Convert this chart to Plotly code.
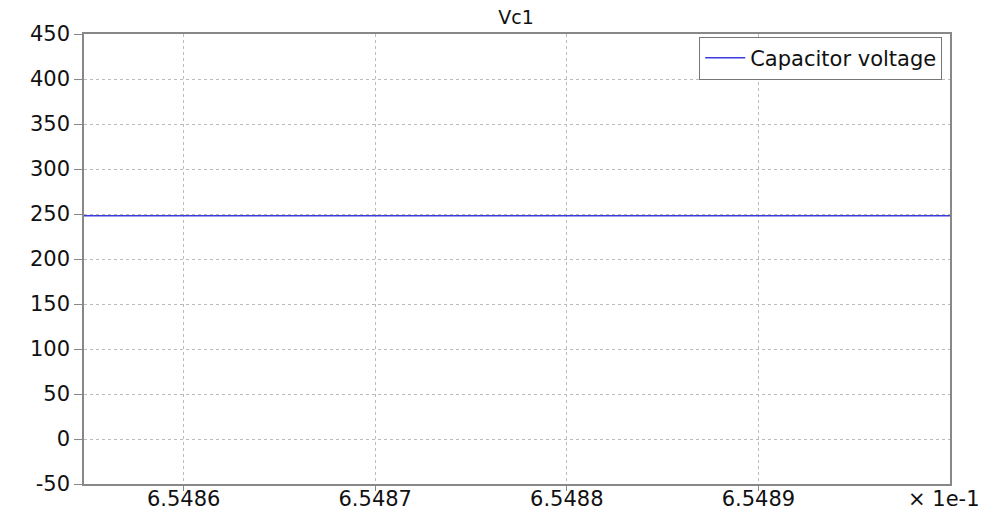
import plotly.graph_objects as go

# time (displayed in units of 1e-1 s)
time_vals = [6.54854, 6.54858, 6.54862, 6.54866, 6.54870, 6.54874, 6.54878,
             6.54882, 6.54886, 6.54890, 6.54894, 6.54898, 6.54900]
vc1_vals = [248.0, 248.0, 248.1, 248.0, 248.0, 248.1, 248.0,
            248.0, 248.1, 248.0, 248.0, 248.1, 248.0]
y_ticks = [-50, 0, 50, 100, 150, 200, 250, 300, 350, 400, 450]
y_tick_labels = ["-50", "0", "50", "100", "150", "200", "250", "300", "350", "400", "450"]
x_ticks = [6.5486, 6.5487, 6.5488, 6.5489]
x_tick_labels = ["6.5486", "6.5487", "6.5488", "6.5489"]

FONT = "DejaVu Sans"
FS = 21
# the page body has an 8px margin, so the figure is shifted by (8, 8)
OFF = 8

fig = go.Figure()
fig.add_trace(go.Scatter(x=time_vals, y=vc1_vals, mode="lines",
                         name="Capacitor voltage",
                         line=dict(color="#3c3cdc", width=1.5)))

fig.update_layout(
    width=989 - OFF, height=512 - OFF,
    margin=dict(l=84 - OFF, r=39, t=34 - OFF, b=28, autoexpand=False),
    paper_bgcolor="white", plot_bgcolor="white",
    font=dict(family=FONT, size=FS, color="#111"),
    title=dict(text="Vc1", xref="paper", x=0.499, xanchor="center",
               yref="container", y=1.0, yanchor="top", pad=dict(t=3, b=0),
               font=dict(family=FONT, size=19, color="#111")),
    showlegend=True,
    legend=dict(x=0.991, xanchor="right", y=0.994, yanchor="top",
                bgcolor="white", bordercolor="#777", borderwidth=1,
                font=dict(family=FONT, size=FS, color="#111"),
                itemwidth=40, tracegroupgap=0),
)
fig.update_xaxes(range=[6.548548, 6.549], tickvals=x_ticks, ticktext=x_tick_labels,
                 showgrid=True, gridcolor="#bbbbbb", griddash="dot", gridwidth=1,
                 showline=True, linecolor="#888", linewidth=1.5, mirror=True,
                 ticks="outside", ticklen=5, tickcolor="#888",
                 ticklabelstandoff=-10,
                 zeroline=False, automargin=False, tickfont=dict(size=FS))
fig.update_yaxes(range=[-50, 450], tickvals=y_ticks, ticktext=y_tick_labels,
                 showgrid=True, gridcolor="#bbbbbb", griddash="dot", gridwidth=1,
                 showline=True, linecolor="#888", linewidth=1.5, mirror=True,
                 ticks="outside", ticklen=8, tickcolor="#888",
                 zeroline=False, automargin=False, tickfont=dict(size=FS))

fig.add_annotation(text="× 1e-1", xref="paper", yref="paper", x=1.037, y=0,
                   xanchor="right", yanchor="middle", yshift=-15, showarrow=False,
                   font=dict(family=FONT, size=FS, color="#111"))

fig.write_html("out.html")
